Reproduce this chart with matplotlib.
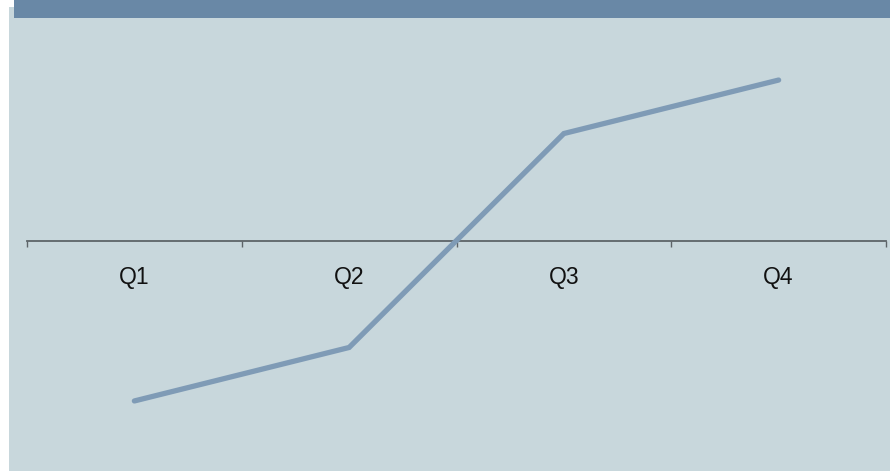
#!/usr/bin/env python3
# Quarterly line chart with a zero baseline and category labels under the axis

import matplotlib
matplotlib.use('Agg')
import matplotlib.pyplot as plt
from matplotlib.patches import Rectangle

# Data
quarters = ['Q1', 'Q2', 'Q3', 'Q4']
values = [-30, -20, 20, 30]

# Colours
col_band = '#6988a6'
col_panel = '#c8d7dc'
col_line = '#7f9bb6'
col_axis = '#5d6468'

W, H = 890, 471
fig = plt.figure(figsize=(W / 100, H / 100), dpi=100)
fig.patch.set_facecolor('white')

# Background panel and header band (figure pixel coords -> fraction)
def px_rect(x0, y0, x1, y1, color):
	fig.patches.append(Rectangle((x0 / W, 1 - y1 / H), (x1 - x0) / W, (y1 - y0) / H,
			transform=fig.transFigure, facecolor=color, edgecolor='none', zorder=-10))

px_rect(9, 7, W, H, col_panel)
px_rect(14, 0, W, 18, col_band)

# Axes area: categories -0.5..3.5 map to x 27..886, zero at y ~241
ax = fig.add_axes([27 / W, (H - 463) / H, 859 / W, 445 / H])
ax.set_zorder(5)
ax.set_facecolor('none')
x = list(range(len(quarters)))
ax.plot(x, values, color=col_line, linewidth=3.8,
		solid_capstyle='round', solid_joinstyle='miter', zorder=3)
ax.set_xlim(-0.5, len(quarters) - 0.5)
ax.set_ylim(-41.6, 41.6)

for side in ['top', 'right', 'left']:
	ax.spines[side].set_visible(False)
ax.spines['bottom'].set_position(('data', 0))
ax.spines['bottom'].set_color(col_axis)
ax.spines['bottom'].set_linewidth(1.3)
ax.spines['bottom'].set_zorder(2)
ax.set_yticks([])
ax.set_xticks([i - 0.5 for i in range(len(quarters) + 1)])
ax.tick_params(axis='x', direction='out', length=4, width=1.0,
		color=col_axis, labelbottom=False)

for i, q in enumerate(quarters):
	ax.annotate(q, xy=(i, 0), xytext=(0, -26.5), textcoords='offset points',
			ha='center', va='center', fontsize=16.5, family='Liberation Sans',
			color='#111111')

fig.savefig('out.png', dpi=100, facecolor=fig.get_facecolor())
